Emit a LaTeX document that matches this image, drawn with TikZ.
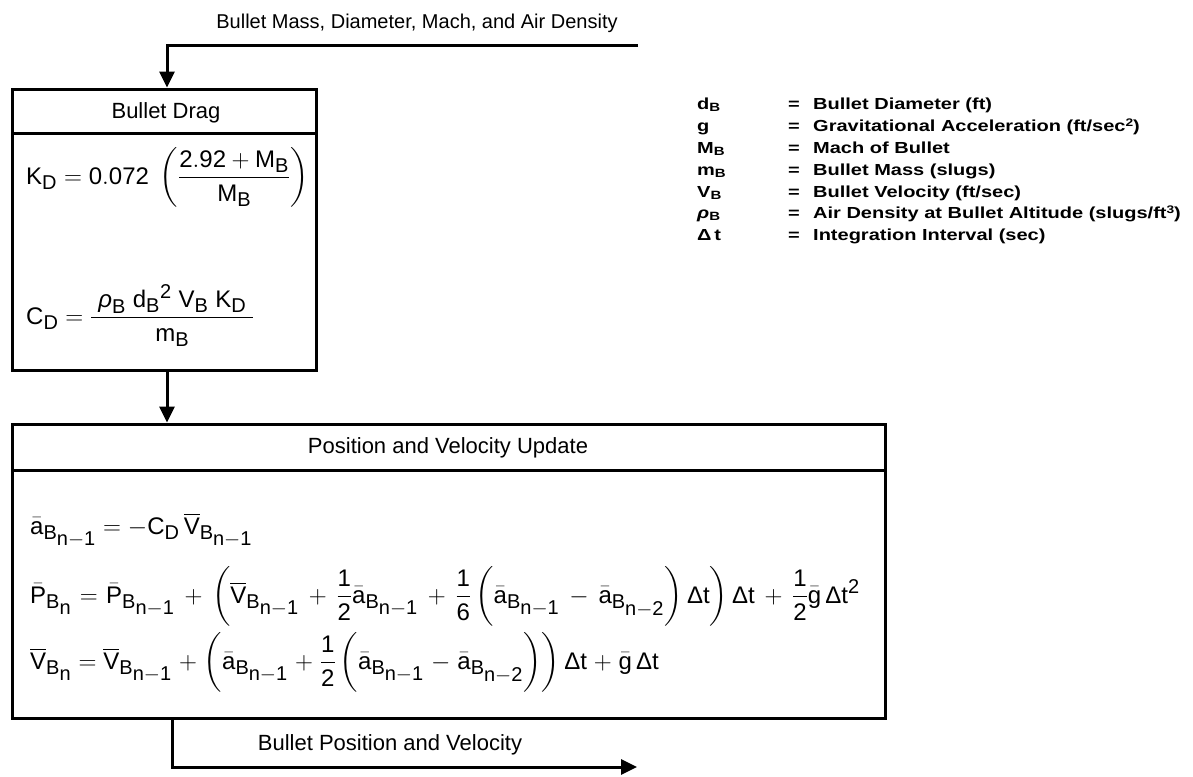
\documentclass[tikz,border=0pt]{standalone}
\usepackage{amsmath}
\usepackage{fontspec}
\setmainfont{Liberation Sans}
\newfontfamily\legendfont{Liberation Sans}[FakeStretch=1.25]
\usetikzlibrary{arrows.meta}
\DeclareMathSizes{24}{24}{20}{17}
\newcommand{\vx}[1]{\mathrm{#1}}
\newcommand{\dT}{\text{Δ}\mathrm{t}}
\newcommand{\sB}[1]{\mathrm{B}_{\raisebox{-3pt}{$\scriptstyle #1$}}}
\newcommand{\nm}[1]{\mathrm{n}{-}\mathrm{#1}}
\newcommand{\aB}[1]{\bar{\mathrm{a}}_{\sB{#1}}}
\newcommand{\VB}[1]{\overline{\mathrm{V}}_{\sB{#1}}}
\newcommand{\PB}[1]{\bar{\mathrm{P}}_{\sB{#1}}}
\newcommand{\half}{\dfrac{\vx{1}}{\vx{2}}}
\newcommand{\lsub}[1]{\raisebox{-0.35ex}{\fontsize{12}{12}\selectfont #1}}
\newcommand{\lsup}[1]{\raisebox{0.55ex}{\fontsize{11}{11}\selectfont #1}}
\tikzset{
  box/.style={draw, line width=3pt, inner sep=0pt},
  divider/.style={line width=3pt},
  arr/.style={line width=3pt, -{Triangle[length=16pt,width=15pt]}},
  title/.style={font=\fontsize{22}{24}\selectfont},
  eq/.style={anchor=base west, inner sep=0pt, font=\fontsize{24}{28}\selectfont},
  lg/.style={anchor=base west, inner sep=0pt, font=\legendfont\bfseries\fontsize{16}{18}\selectfont},
}
\begin{document}
\begin{tikzpicture}[x=1pt,y=-1pt]
\useasboundingbox (0,0) rectangle (1193,776);
% top input
\node[title, font=\fontsize{20}{22}\selectfont] (intext) at (417,23) {Bullet Mass, Diameter, Mach, and Air Density};
\coordinate (inR) at (638,46);
\coordinate (inL) at (167,46);
% bullet drag box
\node[box, minimum width=304pt, minimum height=281pt] (drag) at (164,229.5) {};
\draw[divider] (12,133) -- (316,133);
\node[title] (dragt) at (166,113) {Bullet Drag};
\node[eq] (kd) at (26,184) {$\vx{K}_{\vx{D}} = \vx{0.072}\ \left(\dfrac{\vx{2.92} + \vx{M}_{\vx{B}}}{\vx{M}_{\vx{B}}}\right)$};
\node[eq] (cd) at (26,324) {$\vx{C}_{\vx{D}} = \dfrac{\;\text{\itshape ρ}_{\vx{B}}\;\vx{d}_{\vx{B}}{}^{\vx{2}}\;\vx{V}_{\vx{B}}\;\vx{K}_{\vx{D}}\;}{\vx{m}_{\vx{B}}}$};
% position box
\node[box, minimum width=873pt, minimum height=294pt] (pos) at (448.5,571) {};
\draw[divider] (12,470) -- (885,470);
\node[title] (post) at (448,448) {Position and Velocity Update};
\node[eq] (e1) at (30,534) {$\aB{\nm1} = -\vx{C}_{\vx{D}}\,\VB{\nm1}$};
\node[eq] (e2) at (30,603) {$\medmuskip=7mu\thickmuskip=6mu\PB{\vx{n}} = \PB{\nm1} + \left(\VB{\nm1} + \half\aB{\nm1} + \dfrac{\vx{1}}{\vx{6}}\left(\vphantom{\half}\aB{\nm1} - \aB{\nm2}\right)\dT\right)\dT + \half\bar{\vx{g}}\,\dT^{\vx{2}}$};
\node[eq] (e3) at (30,669) {$\medmuskip=5mu\VB{\vx{n}} = \VB{\nm1} + \left(\aB{\nm1} + \half\left(\vphantom{\half}\aB{\nm1} - \aB{\nm2}\right)\right)\dT + \bar{\vx{g}}\,\dT$};
% output
\coordinate (outE) at (637,767);
\node[title] (outtext) at (390,745) {Bullet Position and Velocity};
% connectors
\draw[arr] (inR) -- (inL) -- (inL |- drag.north);
\draw[arr] ([xshift=3pt]drag.south) -- ([xshift=3pt]drag.south |- pos.north);
\draw[arr] ([xshift=-276.5pt]pos.south) |- (outE);
% legend
\node[lg] (s1) at (697,109) {d\lsub{B}};
\node[lg] (q1) at (788,109) {=};
\node[lg] (t1) at (813,109) {Bullet Diameter (ft)};
\node[lg] (s2) at (697,131) {g};
\node[lg] (q2) at (788,131) {=};
\node[lg] (t2) at (813,131) {Gravitational Acceleration (ft/sec\lsup{2})};
\node[lg] (s3) at (697,153) {M\lsub{B}};
\node[lg] (q3) at (788,153) {=};
\node[lg] (t3) at (813,153) {Mach of Bullet};
\node[lg] (s4) at (697,175) {m\lsub{B}};
\node[lg] (q4) at (788,175) {=};
\node[lg] (t4) at (813,175) {Bullet Mass (slugs)};
\node[lg] (s5) at (697,197) {V\lsub{B}};
\node[lg] (q5) at (788,197) {=};
\node[lg] (t5) at (813,197) {Bullet Velocity (ft/sec)};
\node[lg] (s6) at (697,218) {{\itshape ρ}\lsub{B}};
\node[lg] (q6) at (788,218) {=};
\node[lg] (t6) at (813,218) {Air Density at Bullet Altitude (slugs/ft\lsup{3})};
\node[lg] (s7) at (697,240) {Δ\,t};
\node[lg] (q7) at (788,240) {=};
\node[lg] (t7) at (813,240) {Integration Interval (sec)};
\end{tikzpicture}
\end{document}
